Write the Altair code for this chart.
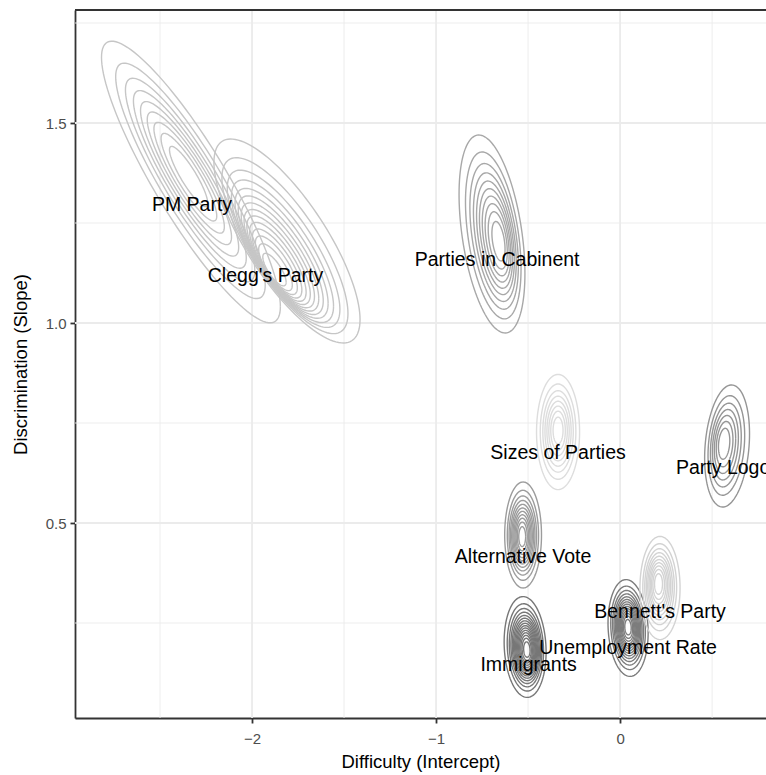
import numpy as np
import pandas as pd
import altair as alt

# Posterior draws summarised per survey item: centre of the outer contour,
# location of the density peak, half-extent of the outer contour on each axis,
# correlation between difficulty and discrimination, and number of contour rings.
items = ["PM Party", "Clegg's Party", "Parties in Cabinent", "Sizes of Parties",
         "Party Logo", "Alternative Vote", "Immigrants", "Unemployment Rate",
         "Bennett's Party"]
centre_x = [-2.332, -1.810, -0.696, -0.337, 0.5815, -0.527, -0.516, 0.0435, 0.217]
centre_y = [1.3525, 1.205, 1.2225, 0.7275, 0.6925, 0.470, 0.190, 0.2375, 0.3375]
peak_x = [-2.348, -1.891, -0.652, -0.337, 0.560, -0.533, -0.505, 0.043, 0.207]
peak_y = [1.370, 1.120, 1.200, 0.7325, 0.700, 0.465, 0.1825, 0.240, 0.350]
spread_x = [0.486, 0.397, 0.179, 0.117, 0.122, 0.100, 0.114, 0.109, 0.109]
spread_y = [0.352, 0.255, 0.2475, 0.144, 0.1525, 0.1325, 0.126, 0.121, 0.129]
corr = [-0.885, -0.77, -0.40, 0.0, 0.2, 0.0, -0.1, -0.1, 0.0]
rings = [9, 14, 10, 8, 7, 11, 15, 14, 10]
shades = ["#c6c6c6", "#c6c6c6", "#a8a8a8", "#dddddd", "#969696",
          "#9c9c9c", "#777777", "#7d7d7d", "#d3d3d3"]

# Item label positions
label_x = [-2.326, -1.927, -0.668, -0.337, 0.560, -0.527, -0.497, 0.0435, 0.217]
label_y = [1.295, 1.1175, 1.1575, 0.675, 0.6375, 0.415, 0.145, 0.1875, 0.2775]

# Axis breaks
x_major = [-2, -1, 0]
x_minor = [-2.5, -1.5, -0.5, 0.5]
y_major = [0.5, 1.0, 1.5]
y_minor = [0.25, 0.75, 1.25, 1.75]

X_DOMAIN = [-2.962, 0.793]
Y_DOMAIN = [0.0125, 1.7825]

# Density contours of a bivariate normal: ring k sits at density level k/(n+1)
# of the peak, so its size relative to the outermost ring is sqrt(ln f_k / ln f_1).
rows = []
theta = np.linspace(0, 2 * np.pi, 121)
for i, name in enumerate(items):
    n = rings[i]
    f1 = 1.0 / (n + 1)
    r = corr[i]
    for k in range(1, n + 1):
        s = np.sqrt(np.log(k / (n + 1)) / np.log(f1))
        cx = peak_x[i] + s * (centre_x[i] - peak_x[i])
        cy = peak_y[i] + s * (centre_y[i] - peak_y[i])
        xs = cx + s * spread_x[i] * np.cos(theta)
        ys = cy + s * spread_y[i] * (r * np.cos(theta) + np.sqrt(1 - r * r) * np.sin(theta))
        for j, (a, b) in enumerate(zip(xs, ys)):
            rows.append({"item": name, "ring": f"{name}-{k}", "pt": j, "x": a, "y": b})
contours = pd.DataFrame(rows)

labels = pd.DataFrame({"item": items, "x": label_x, "y": label_y})

FONT = "Liberation Sans"
GRID = "#ebebeb"
DARK = "#333333"

xscale = alt.Scale(domain=X_DOMAIN, nice=False, zero=False)
yscale = alt.Scale(domain=Y_DOMAIN, nice=False, zero=False)

grid_major_x = alt.Chart(pd.DataFrame({"v": x_major})).mark_rule(
    color=GRID, strokeWidth=1.8).encode(x=alt.X("v:Q", scale=xscale))
grid_minor_x = alt.Chart(pd.DataFrame({"v": x_minor})).mark_rule(
    color=GRID, strokeWidth=0.9).encode(x=alt.X("v:Q", scale=xscale))
grid_major_y = alt.Chart(pd.DataFrame({"v": y_major})).mark_rule(
    color=GRID, strokeWidth=1.8).encode(y=alt.Y("v:Q", scale=yscale))
grid_minor_y = alt.Chart(pd.DataFrame({"v": y_minor})).mark_rule(
    color=GRID, strokeWidth=0.9).encode(y=alt.Y("v:Q", scale=yscale))

lines = alt.Chart(contours).mark_line(strokeWidth=1.4, clip=True).encode(
    x=alt.X("x:Q", scale=xscale,
            axis=alt.Axis(title="Difficulty (Intercept)", values=x_major, format="d",
                          grid=False, domainColor=DARK, domainWidth=1.8, tickColor=DARK,
                          tickWidth=1.8, tickSize=5, labelColor="#4d4d4d",
                          labelFontSize=15, labelFont=FONT, labelPadding=8,
                          titleFont=FONT, titleFontSize=18.5, titleFontWeight="normal",
                          titleColor="black", titlePadding=6)),
    y=alt.Y("y:Q", scale=yscale,
            axis=alt.Axis(title="Discrimination (Slope)", values=y_major, format=".1f",
                          grid=False, domainColor=DARK, domainWidth=1.8, tickColor=DARK,
                          tickWidth=1.8, tickSize=5, labelColor="#4d4d4d",
                          labelFontSize=15, labelFont=FONT, labelPadding=4,
                          titleFont=FONT, titleFontSize=18.5, titleFontWeight="normal",
                          titleColor="black", titlePadding=15)),
    color=alt.Color("item:N", scale=alt.Scale(domain=items, range=shades), legend=None),
    detail="ring:N",
    order="pt:Q",
)

text = alt.Chart(labels).mark_text(
    font=FONT, fontSize=19.5, color="black", align="center", baseline="middle"
).encode(x=alt.X("x:Q", scale=xscale), y=alt.Y("y:Q", scale=yscale), text="item:N")

top_border = alt.Chart(pd.DataFrame({"v": [Y_DOMAIN[1]]})).mark_rule(
    color=DARK, strokeWidth=1.8).encode(y=alt.Y("v:Q", scale=yscale))

chart = alt.layer(
    grid_minor_x, grid_minor_y, grid_major_x, grid_major_y, lines, text, top_border
).properties(
    width=691, height=708,
    padding={"left": 75, "top": 10, "right": 0, "bottom": 57},
    autosize=alt.AutoSizeParams(type="none"),
).configure_view(stroke=None).configure(background="white")

chart.save("out.html", embed_options={"renderer": "svg", "actions": False})
